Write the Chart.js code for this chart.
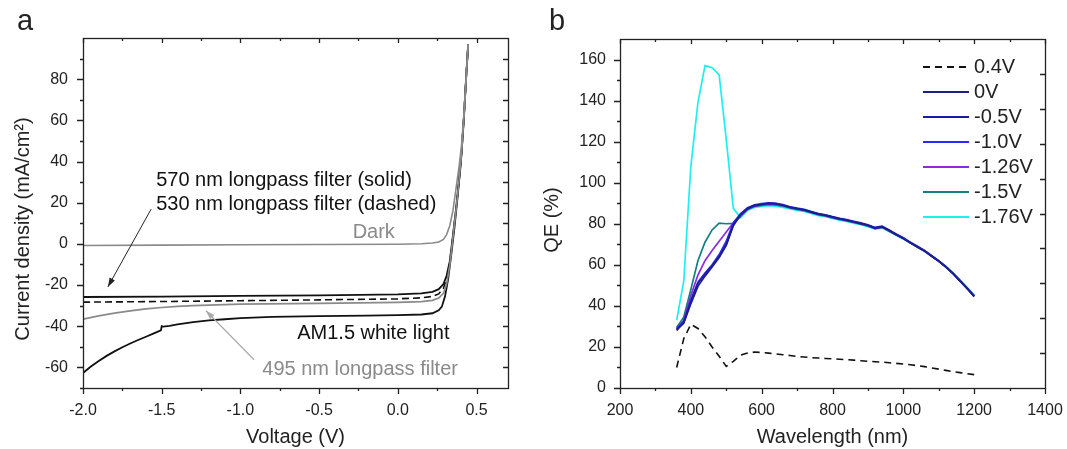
<!DOCTYPE html>
<html><head><meta charset="utf-8">
<script src="https://cdn.jsdelivr.net/npm/chart.js@4.4.1/dist/chart.umd.min.js"></script>
<style>
html,body{margin:0;padding:0;background:#fff;}
#wrap{position:relative;width:1067px;height:449px;overflow:hidden;}
#ca{position:absolute;left:0;top:0;}
#cb{position:absolute;left:540px;top:0;}
</style></head><body>
<div id="wrap"><canvas id="ca" width="540" height="449"></canvas><canvas id="cb" width="527" height="449"></canvas></div>
<script>
// ---------- Panel a data (Voltage V, Current density mA/cm2) ----------
const darkV = [-2.0,-1.5,-1.0,-0.5,0.0,0.15,0.22,0.26,0.29,0.31,0.33,0.35,0.37,0.39,0.405,0.42,0.435,0.447];
const darkJ = [-0.8,-0.6,-0.45,-0.3,-0.15,0.1,0.4,0.9,2.2,4.5,8.8,16,27,38,48,63,82,97];
const g495V = [-2.0,-1.9,-1.8,-1.7,-1.6,-1.5,-1.4,-1.3,-1.2,-1.0,-0.5,0.0,0.15,0.22,0.26,0.29,0.31,0.33,0.35,0.37,0.39,0.405,0.42,0.435,0.447];
const g495J = [-36.6,-35.0,-33.6,-32.5,-31.6,-30.9,-30.4,-30.0,-29.7,-29.3,-28.9,-28.4,-28.0,-27.4,-26.3,-24,-19.5,-10.5,3,16.5,31.5,44,61.5,82,97];
const d530V = [-2.0,-1.5,-1.0,-0.5,0.0,0.15,0.22,0.26,0.29,0.31,0.33,0.35,0.37,0.39,0.405,0.42,0.435,0.447];
const d530J = [-28.3,-28.0,-27.6,-27.2,-26.7,-26.2,-25.5,-24.3,-21.5,-17,-9.5,3.5,17,32,44.5,62,82,97];
const s570V = [-2.0,-1.5,-1.0,-0.5,0.0,0.15,0.22,0.26,0.29,0.31,0.33,0.35,0.37,0.39,0.405,0.42,0.435,0.447];
const s570J = [-25.8,-25.6,-25.3,-25.0,-24.5,-24.0,-23.3,-22.0,-19.5,-15.5,-8.5,4,17,32,44.5,62,82,97];
const amV = [-2.0,-1.95,-1.9,-1.85,-1.8,-1.75,-1.7,-1.65,-1.6,-1.55,-1.505,-1.5,-1.49,-1.45,-1.4,-1.3,-1.2,-1.1,-1.0,-0.8,-0.5,-0.2,0.0,0.15,0.22,0.26,0.28,0.30,0.32,0.34,0.36,0.38,0.40,0.42,0.435,0.447];
const amJ = [-62.7,-59.6,-56.9,-54.4,-52.2,-50.2,-48.4,-46.7,-45.1,-43.5,-42.0,-40.0,-40.2,-39.8,-39.1,-38.0,-37.2,-36.6,-36.1,-35.5,-35.1,-34.8,-34.6,-34.3,-33.7,-32.3,-30.5,-25.5,-17,-5,8,23,39,61,82,97];
const xTicksA = [-2.0,-1.5,-1.0,-0.5,0.0,0.5];
const xTickLabelsA = ['-2.0','-1.5','-1.0','-0.5','0.0','0.5'];
const yTicksA = [-60,-40,-20,0,20,40,60,80];
const yTickLabelsA = ['-60','-40','-20','0','20','40','60','80'];

// ---------- Panel b data (Wavelength nm, QE %) ----------
const wl = [360,380,400,420,440,460,480,500,520,540,560,580,600,620,640,660,680,700,720,740,760,780,800,820,840,860,880,900,920,940,960,980,1000,1020,1040,1060,1080,1100,1120,1140,1160,1180,1200];
const qe04 = [10,24,31,29,25,20,15.5,10.5,13,16,17,17.5,17.3,17,16.6,16.2,15.8,15.4,15.1,14.8,14.6,14.4,14.2,14,13.8,13.6,13.3,13,12.8,12.6,12.3,12,11.7,11.3,10.9,10.4,9.8,9.2,8.6,8,7.5,7,6.5];
const qe0 = [28,32,42,51,55.5,59.5,64,70,79.5,84.5,87.5,89,89.5,90,89.8,89,88,87.3,86.8,85.8,84.8,84.2,83.3,82.5,81.8,81,80.2,79.3,78,78.6,76.8,74.8,73,70.8,68.8,66.8,64.3,61.8,59,55.8,52.2,48.5,44.5];
const qe05 = [28.5,31.5,41,49.5,54.5,59,63.5,69.5,79,84.3,87.3,88.8,89.4,89.9,89.7,89,88.1,87.4,86.7,85.7,84.7,84.1,83.2,82.4,81.7,80.9,80.1,79.2,77.9,78.5,76.7,74.7,72.9,70.7,68.7,66.7,64.2,61.7,58.9,55.7,52.1,48.4,44.6];
const qe10 = [29,32.5,43,51.5,56,60,65,71.5,80.5,84.8,87.8,89.2,89.8,90.2,90,89.3,88.3,87.6,87,86,85,84.4,83.5,82.7,82,81.2,80.4,79.5,78.2,78.8,77,75,73.2,71,69,67,64.5,62,59.2,56,52.4,48.7,45];
const qe126 = [28.5,33,45,55,62,67,71.5,76,80.5,84,87,88.6,89.2,89.6,89.4,88.8,87.9,87.2,86.6,85.6,84.6,84,83.1,82.3,81.6,80.8,80,79.1,77.8,78.4,76.6,74.6,72.8,70.7,68.7,66.7,64.3,61.8,59,55.9,52.3,48.7,44.8];
const qe15 = [29.5,34.5,48,62,71,77,80.3,80,80.2,83.5,87,88.5,89,89.4,89.2,88.6,87.7,87,86.4,85.4,84.4,83.8,82.9,82.1,81.4,80.6,79.8,78.9,77.6,78.2,76.4,74.5,72.7,70.6,68.6,66.6,64.2,61.8,59,55.9,52.3,48.8,45];
const qe176 = [33,52,108,139,157,156,152.5,121,87.5,83,86.5,88,88.5,88.8,88.6,88,87.2,86.5,86,85,84,83.5,82.6,81.8,81.1,80.3,79.5,78.6,77.4,78,76.2,74.4,72.6,70.6,68.7,66.7,64.3,61.9,59.2,56.1,52.6,49,45.3];
const seriesLabelsB = ['0.4V','0V','-0.5V','-1.0V','-1.26V','-1.5V','-1.76V'];
const xTicksB = [200,400,600,800,1000,1200,1400];
const xTickLabelsB = ['200','400','600','800','1000','1200','1400'];
const yTicksB = [0,20,40,60,80,100,120,140,160];
const yTickLabelsB = ['0','20','40','60','80','100','120','140','160'];
const yRightTicksB = [17,34,51,68,85,102,119,136,153];

const FONT = "'Liberation Sans', Arial, Helvetica, sans-serif";
Chart.defaults.font.family = FONT;
Chart.defaults.font.size = 16;
Chart.defaults.color = '#222';

function pts(xs, ys){ return xs.map((v,i)=>({x:v, y:ys[i]})); }
function range(a,b,s){ const r=[]; for(let v=a; v<=b+1e-9; v+=s) r.push(Math.round(v*1000)/1000); return r; }

function drawFrame(chart, f){
  const {ctx, chartArea:a, scales:{x,y}} = chart;
  ctx.save();
  ctx.strokeStyle = '#222'; ctx.lineWidth = 1.3;
  ctx.strokeRect(Math.round(a.left)+0.5, Math.round(a.top)+0.5, Math.round(a.right-a.left), Math.round(a.bottom-a.top));
  ctx.beginPath();
  const MJ=6, MN=3, IN=5, INm=3;
  f.xMajor.forEach(v=>{ const p=Math.round(x.getPixelForValue(v))+0.5;
    ctx.moveTo(p,a.bottom); ctx.lineTo(p,a.bottom+MJ); ctx.moveTo(p,a.top); ctx.lineTo(p,a.top+IN); });
  f.xMinor.forEach(v=>{ const p=Math.round(x.getPixelForValue(v))+0.5;
    ctx.moveTo(p,a.bottom); ctx.lineTo(p,a.bottom+MN); ctx.moveTo(p,a.top); ctx.lineTo(p,a.top+INm); });
  f.yMajor.forEach(v=>{ const p=Math.round(y.getPixelForValue(v))+0.5;
    ctx.moveTo(a.left,p); ctx.lineTo(a.left-MJ,p); });
  f.yMinor.forEach(v=>{ const p=Math.round(y.getPixelForValue(v))+0.5;
    ctx.moveTo(a.left,p); ctx.lineTo(a.left-MN,p); });
  f.yRight.forEach(v=>{ const p=Math.round(y.getPixelForValue(v))+0.5;
    ctx.moveTo(a.right,p); ctx.lineTo(a.right-IN,p); });
  ctx.stroke();
  ctx.fillStyle = '#222';
  ctx.font = '20px ' + FONT;
  ctx.textAlign = 'center'; ctx.textBaseline = 'middle';
  ctx.fillText(f.xTitle, (a.left+a.right)/2, f.xTitleY);
  ctx.save();
  ctx.translate(f.yTitleX, f.yTitleY);
  ctx.rotate(-Math.PI/2);
  ctx.fillText(f.yTitle, 0, 0);
  ctx.restore();
  ctx.font = '29px ' + FONT;
  ctx.textAlign = 'left'; ctx.textBaseline = 'alphabetic';
  ctx.fillText(f.letter, f.letterX, 30);
  ctx.restore();
}

function arrow(ctx, x1,y1,x2,y2,color,w){
  ctx.save(); ctx.strokeStyle=color; ctx.fillStyle=color; ctx.lineWidth=w;
  ctx.beginPath(); ctx.moveTo(x1,y1); ctx.lineTo(x2,y2); ctx.stroke();
  const ang=Math.atan2(y2-y1,x2-x1), L=9, H=3;
  ctx.beginPath(); ctx.moveTo(x2,y2);
  ctx.lineTo(x2-L*Math.cos(ang)+H*Math.sin(ang), y2-L*Math.sin(ang)-H*Math.cos(ang));
  ctx.lineTo(x2-L*Math.cos(ang)-H*Math.sin(ang), y2-L*Math.sin(ang)+H*Math.cos(ang));
  ctx.closePath(); ctx.fill(); ctx.restore();
}

function scaleCfg(min,max,ticks,labels,pad,size){
  return {
    type:'linear', min, max,
    grid:{display:false, drawTicks:false}, border:{display:false},
    afterBuildTicks: s => { s.ticks = ticks.map(v=>({value:v})); },
    ticks:{autoSkip:false, maxRotation:0, padding:pad, color:'#222', font:{size:16},
      callback:(v,i)=>labels[i]},
    afterFit: s => {
      if (s.isHorizontal()) s.height = size; else s.width = size;
      s.paddingLeft = 0; s.paddingRight = 0; s.paddingTop = 0; s.paddingBottom = 0;
    }
  };
}

// ---------------- Chart a ----------------
const GRAY = '#8a8a8a', BLACK = '#111';
new Chart(document.getElementById('ca'), {
  type:'line',
  data:{ datasets:[
    {label:'Dark', data:pts(darkV,darkJ), borderColor:GRAY, borderWidth:1.6},
    {label:'495 nm longpass filter', data:pts(g495V,g495J), borderColor:GRAY, borderWidth:1.7},
    {label:'530 nm longpass filter', data:pts(d530V,d530J), borderColor:BLACK, borderWidth:1.6, borderDash:[7,4]},
    {label:'570 nm longpass filter', data:pts(s570V,s570J), borderColor:BLACK, borderWidth:1.8},
    {label:'AM1.5 white light', data:pts(amV,amJ), borderColor:BLACK, borderWidth:1.8}
  ]},
  options:{
    responsive:false, animation:false, devicePixelRatio:1,
    layout:{padding:{left:0,right:32,top:38,bottom:0}},
    elements:{point:{radius:0}, line:{tension:0, fill:false}},
    plugins:{legend:{display:false}, tooltip:{enabled:false}},
    scales:{
      x: scaleCfg(-2.0,0.7,xTicksA,xTickLabelsA,13,61),
      y: scaleCfg(-70,100,yTicksA,yTickLabelsA,15,83)
    }
  },
  plugins:[{
    id:'decorA',
    afterDraw(chart){
      const {ctx, scales:{x,y}} = chart;
      drawFrame(chart,{
        xMajor:xTicksA, xMinor:[-1.75,-1.25,-0.75,-0.25,0.25],
        yMajor:yTicksA, yMinor:[-70,-50,-30,-10,10,30,50,70,90],
        yRight:range(-60,90,10),
        xTitle:'Voltage (V)', xTitleY:437,
        yTitle:'Current density (mA/cm\u00B2)', yTitleX:23, yTitleY:229,
        letter:'a', letterX:17
      });
      ctx.save();
      ctx.font = '20px ' + FONT; ctx.textAlign='left'; ctx.textBaseline='middle';
      const T = (s,vx,vy,c)=>{ ctx.fillStyle=c; ctx.fillText(s, x.getPixelForValue(vx), y.getPixelForValue(vy)); };
      T('570 nm longpass filter (solid)', -1.535, 31, '#111');
      T('530 nm longpass filter (dashed)', -1.535, 19, '#111');
      T('Dark', -0.287, 5.5, GRAY);
      T('AM1.5 white light', -0.639, -43.4, '#111');
      T('495 nm longpass filter', -0.861, -61.1, GRAY);
      ctx.restore();
      arrow(ctx, x.getPixelForValue(-1.567), y.getPixelForValue(16.9), x.getPixelForValue(-1.842), y.getPixelForValue(-20.9), '#222', 1);
      arrow(ctx, x.getPixelForValue(-0.913), y.getPixelForValue(-56.3), x.getPixelForValue(-1.219), y.getPixelForValue(-32.5), '#aaa', 1.2);
    }
  }]
});

// ---------------- Chart b ----------------
const colorsB = ['#111111','#1f1f85','#1a1aa8','#2a2aff','#8a2be2','#138080','#1ef0f0'];
const valsB = [qe04,qe0,qe05,qe10,qe126,qe15,qe176];
new Chart(document.getElementById('cb'), {
  type:'line',
  data:{ datasets: valsB.map((v,i)=>({
    label:seriesLabelsB[i], data:pts(wl,v), borderColor:colorsB[i],
    borderWidth: i===0?1.6:1.7, borderDash: i===0?[7,5]:[]
  }))},
  options:{
    responsive:false, animation:false, devicePixelRatio:1,
    layout:{padding:{left:0,right:22,top:39,bottom:0}},
    elements:{point:{radius:0}, line:{tension:0, fill:false}},
    plugins:{legend:{display:false}, tooltip:{enabled:false}},
    scales:{
      x: scaleCfg(200,1400,xTicksB,xTickLabelsB,13,61),
      y: scaleCfg(0,170,yTicksB,yTickLabelsB,14,80)
    }
  },
  plugins:[{
    id:'decorB',
    afterDraw(chart){
      const {ctx} = chart;
      drawFrame(chart,{
        xMajor:xTicksB, xMinor:[300,500,700,900,1100,1300],
        yMajor:yTicksB, yMinor:[10,30,50,70,90,110,130,150],
        yRight:yRightTicksB,
        xTitle:'Wavelength (nm)', xTitleY:437,
        yTitle:'QE (%)', yTitleX:12, yTitleY:220,
        letter:'b', letterX:9
      });
      ctx.save();
      ctx.font = '20px ' + FONT; ctx.textAlign='left'; ctx.textBaseline='middle';
      chart.data.datasets.forEach((d,i)=>{
        const yy = 67 + i*25;
        ctx.strokeStyle = d.borderColor; ctx.lineWidth = 2;
        ctx.setLineDash(d.borderDash || []);
        ctx.beginPath(); ctx.moveTo(383, yy); ctx.lineTo(429, yy); ctx.stroke();
        ctx.setLineDash([]);
        ctx.fillStyle = '#222';
        ctx.fillText(d.label, 434, yy);
      });
      ctx.restore();
    }
  }]
});
</script></body></html>
